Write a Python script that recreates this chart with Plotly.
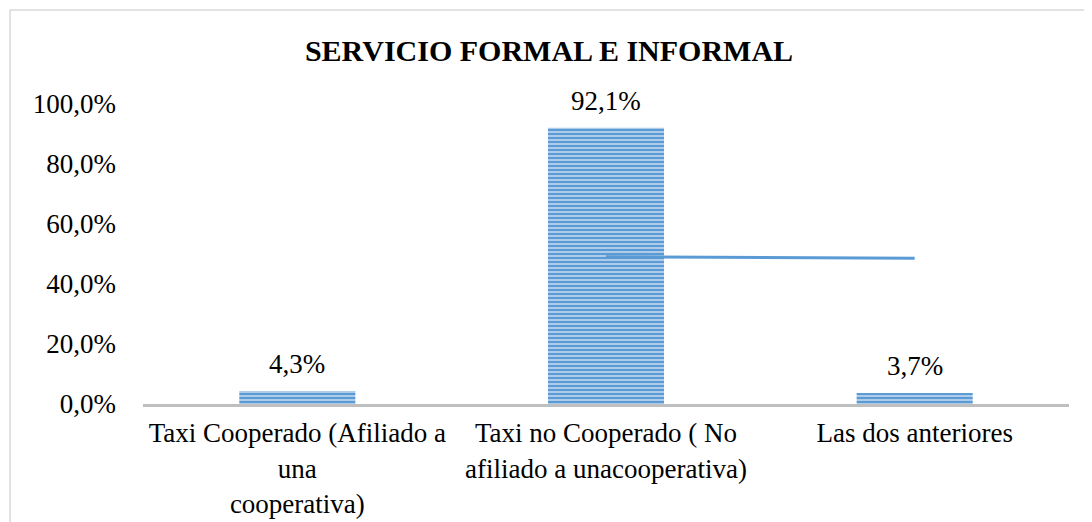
import plotly.graph_objects as go

categorias = [
    "Taxi Cooperado (Afiliado a<br>una<br>cooperativa)",
    "Taxi no Cooperado ( No<br>afiliado a unacooperativa)",
    "Las dos anteriores",
]
porcentajes = [0.043, 0.921, 0.037]
etiquetas = ["4,3%", "92,1%", "3,7%"]

# linea suelta que aparece en el grafico original
linea_x = [categorias[1], categorias[2]]
linea_y = [0.491, 0.486]

titulo = "SERVICIO FORMAL E INFORMAL"
fuente = "Liberation Serif, Times New Roman, serif"

fig = go.Figure()

fig.add_trace(go.Bar(
    x=categorias,
    y=porcentajes,
    marker=dict(
        color="#5B9BD5",
        line=dict(width=0),
        pattern=dict(shape="-", fgcolor="#5B9BD5", bgcolor="#C3D8EF",
                     size=4, solidity=0.6, fillmode="replace"),
    ),
    showlegend=False,
))

fig.add_trace(go.Scatter(
    x=linea_x,
    y=linea_y,
    mode="lines",
    line=dict(color="#5B9BD5", width=3),
    showlegend=False,
    hoverinfo="skip",
))

# etiquetas de datos encima de cada barra
for cat, val, txt in zip(categorias, porcentajes, etiquetas):
    fig.add_annotation(x=cat, y=val, text=txt, showarrow=False,
                       yanchor="bottom", yshift=10,
                       font=dict(family=fuente, size=27, color="#000000"))

# marco gris del area del grafico
fig.add_shape(type="rect", xref="paper", yref="paper",
              x0=-0.1436, x1=1.06, y0=-0.5, y1=1.313,
              line=dict(color="#D9D9D9", width=1.5), layer="below")

fig.update_layout(
    width=1092,
    height=522,
    margin=dict(l=135, r=31, t=96, b=126),
    paper_bgcolor="white",
    plot_bgcolor="white",
    bargap=0.624,
    separators=",.",
    font=dict(family=fuente, size=27, color="#000000"),
    title=dict(
        text="<b>" + titulo + "</b>",
        x=541 / 1092, xanchor="center",
        y=1 - 42 / 522, yref="container", yanchor="middle",
        font=dict(family=fuente, size=30, color="#000000"),
    ),
)

fig.update_xaxes(
    showline=True, linecolor="#BFBFBF", linewidth=3,
    showgrid=False, ticks="", ticklabelstandoff=3,
    tickfont=dict(family=fuente, size=27, color="#000000"),
)
fig.update_yaxes(
    range=[0, 1], dtick=0.2, tickformat=".1%",
    showgrid=False, zeroline=False, showline=False,
    ticklabelstandoff=26,
    tickfont=dict(family=fuente, size=27, color="#000000"),
)

fig.write_html("out.html")
